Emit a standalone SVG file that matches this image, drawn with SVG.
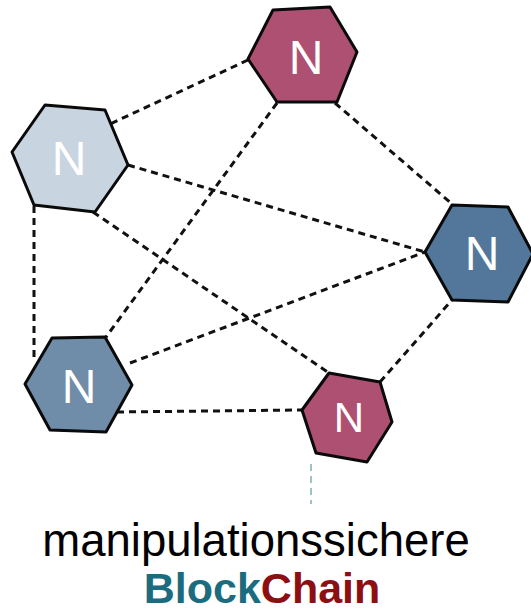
<svg xmlns="http://www.w3.org/2000/svg" width="531" height="614" viewBox="0 0 531 614">
  <style>
    .edge { stroke: #111; stroke-width: 3; stroke-dasharray: 7 5; fill: none; }
    .hex { stroke: #0a0a0a; stroke-width: 3; stroke-linejoin: round; }
    .red { fill: #ae5072; }
    .pale { fill: #c8d4df; }
    .dark { fill: #53779a; }
    .mid { fill: #6f8ca9; }
    .lbl { fill: #ffffff; font-family: "Liberation Sans", Arial, sans-serif; font-size: 48px; text-anchor: middle; }
    .cap { font-family: "Liberation Sans", Arial, sans-serif; text-anchor: middle; }
  </style>
  <rect width="531" height="614" fill="#ffffff"/>

  <!-- dashed links between the nodes -->
  <g id="connectors">
    <line class="edge" x1="248" y1="60" x2="110" y2="124"/>
    <line class="edge" x1="335" y1="103" x2="452" y2="204"/>
    <line class="edge" x1="277" y1="103" x2="106" y2="337"/>
    <line class="edge" x1="128" y1="165" x2="425" y2="252"/>
    <line class="edge" x1="93" y1="212" x2="329" y2="373"/>
    <line class="edge" x1="34" y1="206" x2="34" y2="360"/>
    <line class="edge" x1="130" y1="363" x2="425" y2="252"/>
    <line class="edge" x1="117" y1="412" x2="302" y2="410"/>
    <line class="edge" x1="380" y1="382" x2="452" y2="300"/>
    <line x1="311" y1="464" x2="311" y2="504" stroke="#9cc3c6" stroke-width="2" stroke-dasharray="7 5"/>
  </g>

  <g id="node-top">
    <polygon class="hex red" points="273,10 330,7 357,52 337,102 277,102 248,59"/>
    <text class="lbl" x="306" y="74">N</text>
  </g>
  <g id="node-left">
    <polygon class="hex pale" points="45,105 105,110 128,165 95,212 34,205 12,152"/>
    <text class="lbl" x="69" y="175">N</text>
  </g>
  <g id="node-right">
    <polygon class="hex dark" points="452,205 508,207 533,254 508,302 452,300 425,252"/>
    <text class="lbl" x="482" y="270">N</text>
  </g>
  <g id="node-bottom-left">
    <polygon class="hex mid" points="52,338 105,337 132,385 106,432 50,430 25,384"/>
    <text class="lbl" x="79" y="403">N</text>
  </g>
  <g id="node-bottom">
    <polygon class="hex red" points="329,373 380,382 392,422 367,462 316,453 302,410"/>
    <text class="lbl" x="349" y="432" style="font-size:42px">N</text>
  </g>

  <g id="caption">
    <text class="cap" x="256" y="556" font-size="45.5" fill="#000000">manipulationssichere</text>
    <text class="cap" x="262" y="603" font-size="43" font-weight="bold"><tspan fill="#1b6c7e">Block</tspan><tspan fill="#8e0f12">Chain</tspan></text>
  </g>
</svg>
